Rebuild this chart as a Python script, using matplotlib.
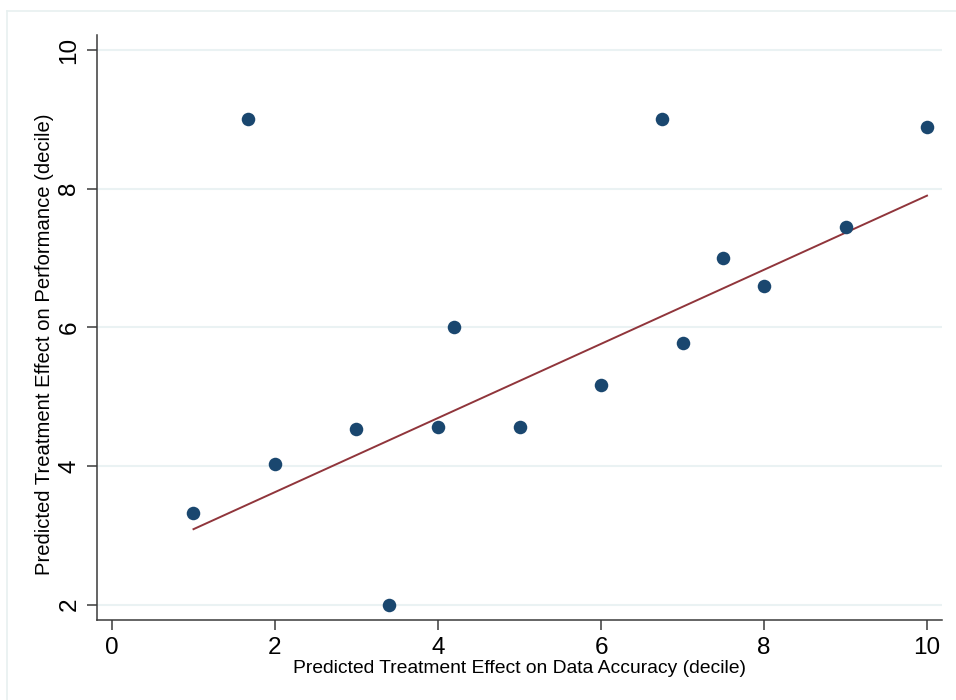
import matplotlib
matplotlib.use('Agg')
import matplotlib.pyplot as plt
from matplotlib.lines import Line2D

plt.rcParams['font.family'] = ['Liberation Sans', 'DejaVu Sans']

# decile points
acc_decile = [1, 1.67, 2, 3, 3.4, 4, 4.2, 5, 6, 6.75, 7, 7.5, 8, 9, 10]
perf_decile = [3.33, 9.0, 4.03, 4.53, 2.0, 4.57, 6.0, 4.56, 5.17, 9.0, 5.77, 7.0, 6.6, 7.45, 8.89]

# fitted line ends
fit_x = [1, 10]
fit_y = [3.09, 7.9]

x_ticks = [0, 2, 4, 6, 8, 10]
y_ticks = [2, 4, 6, 8, 10]

fig = plt.figure(figsize=(9.56, 7), dpi=100)
ax = fig.add_axes([97 / 956, 1 - 620 / 700, 845 / 956, 585 / 700])

# outer frame, stata style
fig.add_artist(Line2D([7 / 956, 1], [1 - 11 / 700, 1 - 11 / 700], color='#e8f0f0', lw=1.2))
fig.add_artist(Line2D([7 / 956, 7 / 956], [0, 1 - 11 / 700], color='#e8f0f0', lw=1.2))

for yv in y_ticks:
    ax.axhline(yv, color='#eaf2f3', lw=1.5, zorder=0)

ax.scatter(acc_decile, perf_decile, s=95, color='#1a476f', zorder=3, linewidths=0)
ax.plot(fit_x, fit_y, color='#90353b', lw=1.4, zorder=2)

ax.set_xlim(-0.184, 10.184)
ax.set_ylim(1.78, 10.217)
ax.set_xticks(x_ticks)
ax.set_yticks(y_ticks)
ax.set_xticklabels([str(v) for v in x_ticks], fontsize=17.5)
ax.set_yticklabels([str(v) for v in y_ticks], fontsize=17.5, rotation=90, va='center')

for side in ['top', 'right']:
    ax.spines[side].set_visible(False)
for side in ['left', 'bottom']:
    ax.spines[side].set_color('#3a3a3a')
    ax.spines[side].set_linewidth(1.1)
ax.tick_params(direction='out', length=7, width=1.1, color='#3a3a3a', pad=5)

ax.set_xlabel('Predicted Treatment Effect on Data Accuracy (decile)', fontsize=13.9)
ax.set_ylabel('Predicted Treatment Effect on Performance (decile)', fontsize=14.6)
ax.xaxis.set_label_coords(0.5, -0.068)
ax.yaxis.set_label_coords(-0.051, 0.472)

fig.savefig('out.png', dpi=100, facecolor='white')
